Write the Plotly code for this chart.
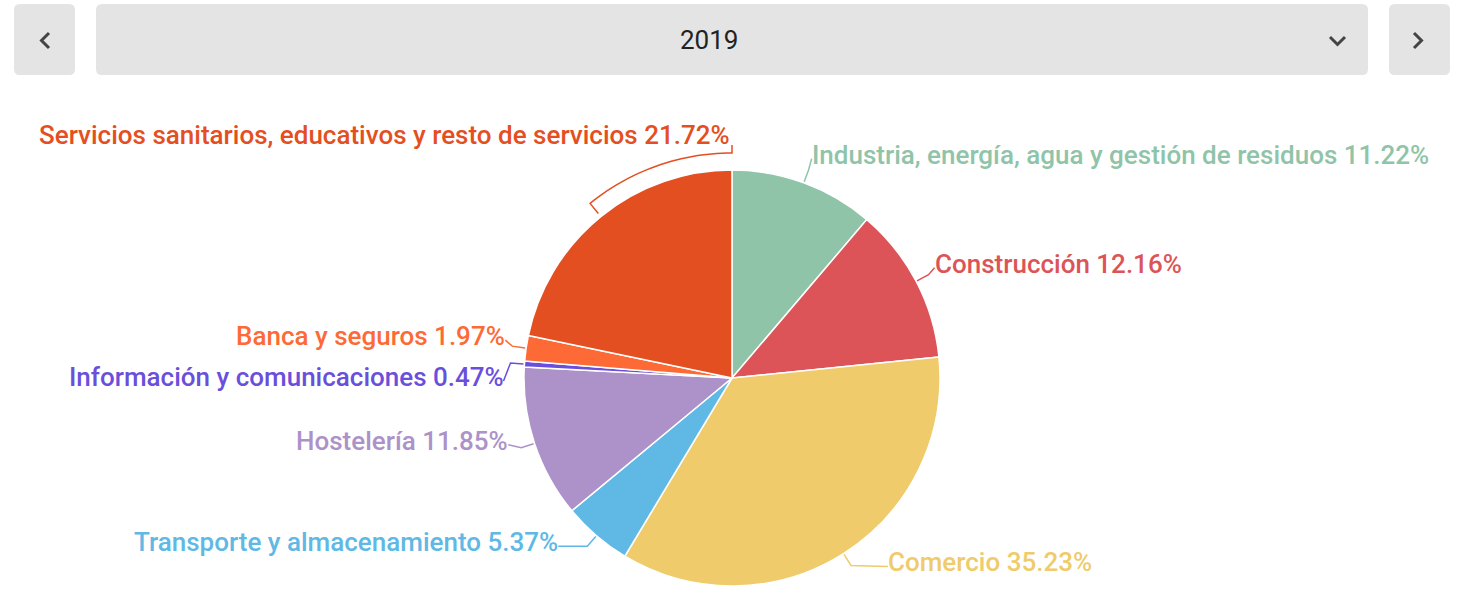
import math
import plotly.graph_objects as go

# Sector shares of companies, 2019
sectores = [
    "Industria, energía, agua y gestión de residuos",
    "Construcción",
    "Comercio",
    "Transporte y almacenamiento",
    "Hostelería",
    "Información y comunicaciones",
    "Banca y seguros",
    "Servicios sanitarios, educativos y resto de servicios",
]
porcentajes = [11.22, 12.16, 35.23, 5.37, 11.85, 0.47, 1.97, 21.72]
anio = "2019"

colores = ["#8fc4a8", "#dc5457", "#efcb6b", "#60b8e5",
           "#ac92c8", "#6a4fdc", "#fd6a35", "#e44f22"]

# label nudges (px) relative to the leader elbow: (horizontal gap, vertical shift)
label_nudge = [(3, -15), (6, -11), (37, -3), (29, -4),
               (13, -7), (7, 14), (7, -10), None]

W, H = 1466, 590
CX, CY, R = 732, 378, 208
FONT = "Roboto"

fig = go.Figure()

fig.add_trace(go.Pie(
    labels=sectores,
    values=porcentajes,
    sort=False,
    direction="clockwise",
    rotation=0,
    marker=dict(colors=colores, line=dict(color="white", width=1.5)),
    textinfo="none",
    hovertemplate="%{label}: %{value:.2f}%<extra></extra>",
    showlegend=False,
    domain=dict(x=[(CX - R) / W, (CX + R) / W],
                y=[1 - (CY + R) / H, 1 - (CY - R) / H]),
))


def pt(angle_deg, radius):
    a = math.radians(angle_deg)
    return CX + radius * math.sin(a), CY - radius * math.cos(a)


shapes = []
annotations = []
total = sum(porcentajes)
start = 0.0
for nombre, val, col, nudge in zip(sectores, porcentajes, colores, label_nudge):
    span = val / total * 360
    mid = start + span / 2
    start += span
    texto = f"{nombre} {val:.2f}%"
    ex, ey = pt(mid, R + 1)
    if nudge is None:
        # leader runs along an arc round the pie up to the top, then rises to the label
        pts = [pt(mid, R + 4)]
        steps = 30
        for i in range(steps + 1):
            pts.append(pt(mid + (360 - mid) * i / steps, R + 17))
        top_x, top_y = pts[-1]
        pts.append((top_x, top_y - 8))
        path = "M " + " L ".join(f"{x:.2f},{y:.2f}" for x, y in pts)
        tx, ty, anchor = top_x, top_y - 18, "right"
    else:
        bx, by = pt(mid, R + 14)
        side = 1 if math.sin(math.radians(mid)) >= 0 else -1
        tx, ty = bx + side * nudge[0], by + nudge[1]
        path = f"M {ex:.2f},{ey:.2f} L {bx:.2f},{by:.2f} L {tx:.2f},{ty + 4:.2f}"
        anchor = "left" if side > 0 else "right"
        tx -= side * 2
    shapes.append(dict(type="path", path=path, xref="x", yref="y",
                       line=dict(color=col, width=1.5), layer="above"))
    annotations.append(dict(x=tx, y=ty, xref="x", yref="y", text=texto,
                            showarrow=False, xanchor=anchor, yanchor="middle",
                            font=dict(family=FONT, size=26, color=col, weight=500)))


def rounded_rect(x0, y0, x1, y1, r):
    return (f"M {x0 + r},{y0} L {x1 - r},{y0} Q {x1},{y0} {x1},{y0 + r} "
            f"L {x1},{y1 - r} Q {x1},{y1} {x1 - r},{y1} L {x0 + r},{y1} "
            f"Q {x0},{y1} {x0},{y1 - r} L {x0},{y0 + r} Q {x0},{y0} {x0 + r},{y0} Z")


# year selector: previous button, dropdown, next button
for x0, x1 in [(14, 75), (96, 1368), (1389, 1450)]:
    shapes.append(dict(type="path", path=rounded_rect(x0, 4, x1, 75, 6),
                       xref="x", yref="y", fillcolor="#e4e4e4",
                       line=dict(width=0), layer="below"))
chev = dict(color="#444444", width=3)
shapes += [
    dict(type="path", path="M 49,33 L 41.5,40.5 L 49,48", xref="x", yref="y", line=chev),
    dict(type="path", path="M 1414,33 L 1421.5,40.5 L 1414,48", xref="x", yref="y", line=chev),
    dict(type="path", path="M 1330,37 L 1337.5,44.5 L 1345,37", xref="x", yref="y", line=chev),
]
annotations.append(dict(x=709, y=40, xref="x", yref="y", text=anio, showarrow=False,
                        xanchor="center", yanchor="middle",
                        font=dict(family=FONT, size=26, color="#222222")))

fig.update_layout(
    width=W, height=H,
    margin=dict(l=0, r=0, t=0, b=0),
    paper_bgcolor="white", plot_bgcolor="white",
    xaxis=dict(range=[0, W], visible=False, fixedrange=True, domain=[0, 1]),
    yaxis=dict(range=[H, 0], visible=False, fixedrange=True, domain=[0, 1]),
    shapes=shapes,
    annotations=annotations,
    font=dict(family=FONT),
)

fig.write_html("out.html", config=dict(displayModeBar=False))
